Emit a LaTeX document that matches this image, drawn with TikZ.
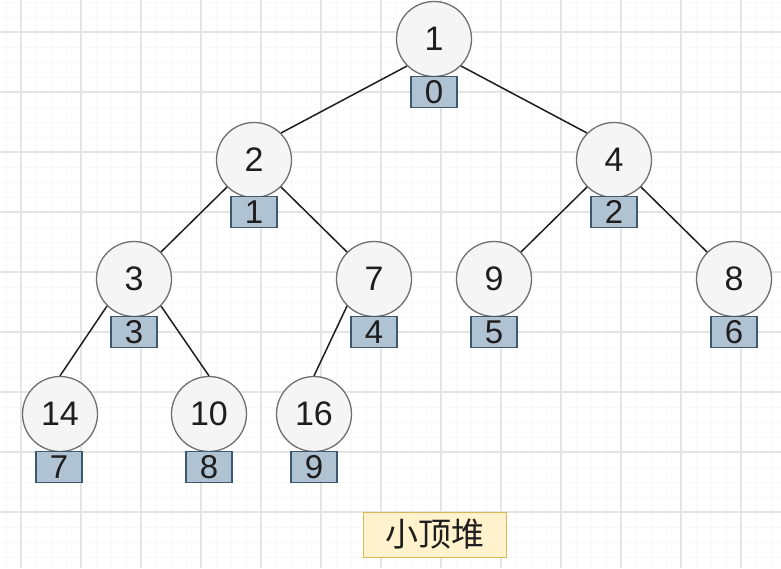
\documentclass[tikz,border=0pt]{standalone}
\usepackage{fontspec}
\setmainfont{Liberation Sans}
\newfontfamily\cjk{Noto Sans CJK SC}
\definecolor{gridmajor}{RGB}{228,228,228}
\definecolor{gridminor}{RGB}{248,248,248}
\definecolor{circfill}{RGB}{245,245,245}
\definecolor{circdraw}{RGB}{110,110,110}
\definecolor{boxfill}{RGB}{176,195,211}
\definecolor{boxdraw}{RGB}{60,88,112}
\definecolor{titlefill}{RGB}{255,242,204}
\definecolor{titledraw}{RGB}{214,182,86}
\definecolor{inkc}{RGB}{30,30,30}
\begin{document}
\begin{tikzpicture}[x=1pt,y=-1pt,
  heapnode/.style={circle,draw=circdraw,fill=circfill,line width=1.3pt,minimum size=75pt,inner sep=0pt,text=inkc,font=\fontsize{34}{34}\selectfont},
  idxbox/.style={rectangle,draw=boxdraw,fill=boxfill,line width=1.1pt,minimum width=46pt,minimum height=31pt,inner sep=0pt,text=inkc,font=\fontsize{33}{33}\selectfont},
  link/.style={draw=inkc,line width=1.5pt},
  titlebox/.style={rectangle,draw=titledraw,fill=titlefill,line width=1pt,minimum width=143pt,minimum height=45pt,inner sep=0pt,text=inkc,font=\cjk\fontsize{33}{33}\selectfont}]
\useasboundingbox (0,0) rectangle (781,568);
\fill[white] (0,0) rectangle (781,568);
% minor grid
\foreach \x in {6,21,...,781} \draw[gridminor,line width=0.8pt] (\x,0) -- (\x,568);
\foreach \y in {2,17,...,568} \draw[gridminor,line width=0.8pt] (0,\y) -- (781,\y);
% major grid
\foreach \x in {21,81,...,781} \draw[gridmajor,line width=1.2pt] (\x,0) -- (\x,568);
\foreach \y in {32,92,...,568} \draw[gridmajor,line width=1.2pt] (0,\y) -- (781,\y);

% circles
\node[heapnode] (c0) at (434,39) {1};
\node[heapnode] (c1) at (254,160) {2};
\node[heapnode] (c2) at (614,160) {4};
\node[heapnode] (c3) at (134,279) {3};
\node[heapnode] (c4) at (374,279) {7};
\node[heapnode] (c5) at (494,279) {9};
\node[heapnode] (c6) at (734,279) {8};
\node[heapnode] (c7) at (60,414) {14};
\node[heapnode] (c8) at (209,414) {10};
\node[heapnode] (c9) at (314,414) {16};

% edges
\draw[link] (c0.south west) -- (c1.north east);
\draw[link] (c0.south east) -- (c2.north west);
\draw[link] (c1.south west) -- (c3.north east);
\draw[link] (c1.south east) -- (c4.north west);
\draw[link] (c2.south west) -- (c5.north east);
\draw[link] (c2.south east) -- (c6.north west);
\draw[link] (c3.south west) -- (c7.north);
\draw[link] (c3.south east) -- (c8.north);
\draw[link] (c4.south west) -- (c9.north);

% index boxes
\node[idxbox] (b0) at (434,92) {0};
\node[idxbox] (b1) at (254,212) {1};
\node[idxbox] (b2) at (614,212) {2};
\node[idxbox] (b3) at (134,332) {3};
\node[idxbox] (b4) at (374,332) {4};
\node[idxbox] (b5) at (494,332) {5};
\node[idxbox] (b6) at (734,332) {6};
\node[idxbox] (b7) at (59,467) {7};
\node[idxbox] (b8) at (209,467) {8};
\node[idxbox] (b9) at (314,467) {9};

% title
\node[titlebox] (title) at (434.5,534.5) {小顶堆};
\end{tikzpicture}
\end{document}
